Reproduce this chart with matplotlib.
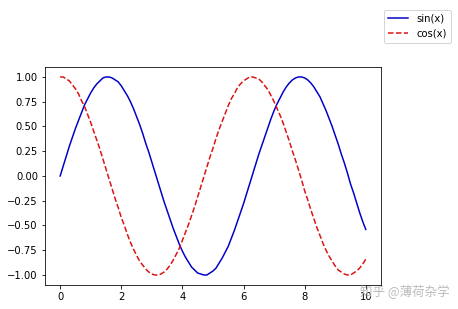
import matplotlib.pyplot as plt

x = [i / 10 for i in range(101)]
sin_y = [0.00, 0.10, 0.20, 0.30, 0.39, 0.48, 0.56, 0.64, 0.72, 0.78,
         0.84, 0.89, 0.93, 0.96, 0.99, 1.00, 1.00, 0.99, 0.97, 0.95,
         0.91, 0.86, 0.81, 0.75, 0.68, 0.60, 0.52, 0.43, 0.33, 0.24,
         0.14, 0.04, -0.06, -0.16, -0.26, -0.35, -0.44, -0.53, -0.61, -0.69,
         -0.76, -0.82, -0.87, -0.92, -0.95, -0.98, -0.99, -1.00, -1.00, -0.98,
         -0.96, -0.93, -0.88, -0.83, -0.77, -0.71, -0.63, -0.55, -0.46, -0.37,
         -0.28, -0.18, -0.08, 0.02, 0.12, 0.22, 0.31, 0.40, 0.49, 0.58,
         0.66, 0.73, 0.79, 0.85, 0.90, 0.94, 0.97, 0.99, 1.00, 1.00,
         0.99, 0.97, 0.94, 0.90, 0.85, 0.80, 0.73, 0.66, 0.58, 0.50,
         0.41, 0.32, 0.22, 0.13, 0.03, -0.08, -0.17, -0.27, -0.37, -0.46,
         -0.54]
cos_y = [1.00, 1.00, 0.98, 0.96, 0.92, 0.88, 0.83, 0.76, 0.70, 0.62,
         0.54, 0.45, 0.36, 0.27, 0.17, 0.07, -0.03, -0.13, -0.23, -0.32,
         -0.42, -0.50, -0.59, -0.67, -0.74, -0.80, -0.86, -0.90, -0.94, -0.97,
         -0.99, -1.00, -1.00, -0.99, -0.97, -0.94, -0.90, -0.85, -0.79, -0.73,
         -0.65, -0.57, -0.49, -0.40, -0.31, -0.21, -0.11, -0.01, 0.09, 0.19,
         0.28, 0.38, 0.47, 0.55, 0.63, 0.71, 0.78, 0.83, 0.89, 0.93,
         0.96, 0.98, 1.00, 1.00, 0.99, 0.98, 0.95, 0.91, 0.87, 0.81,
         0.75, 0.68, 0.61, 0.53, 0.44, 0.35, 0.25, 0.16, 0.06, -0.04,
         -0.15, -0.24, -0.34, -0.43, -0.52, -0.60, -0.68, -0.75, -0.81, -0.86,
         -0.91, -0.95, -0.97, -0.99, -1.00, -1.00, -0.98, -0.96, -0.93, -0.89,
         -0.84]

fig = plt.figure(figsize=(458 / 72, 309 / 72), dpi=72)
ax = fig.add_axes([0.098, 0.078, 0.734, 0.705])
ax.plot(x, sin_y, color='#0000c8', label='sin(x)')
ax.plot(x, cos_y, '--', color='#dd1111', label='cos(x)')
fig.legend(loc='upper right', bbox_to_anchor=(0.995, 0.985))

# zhihu watermark
fig.text(0.982, 0.055, '知乎 @薄荷杂学', ha='right', va='center', fontsize=12.5,
         color='#bbbbbb', family=['Noto Sans CJK SC', 'DejaVu Sans'])

fig.savefig('out.png', dpi=72)
